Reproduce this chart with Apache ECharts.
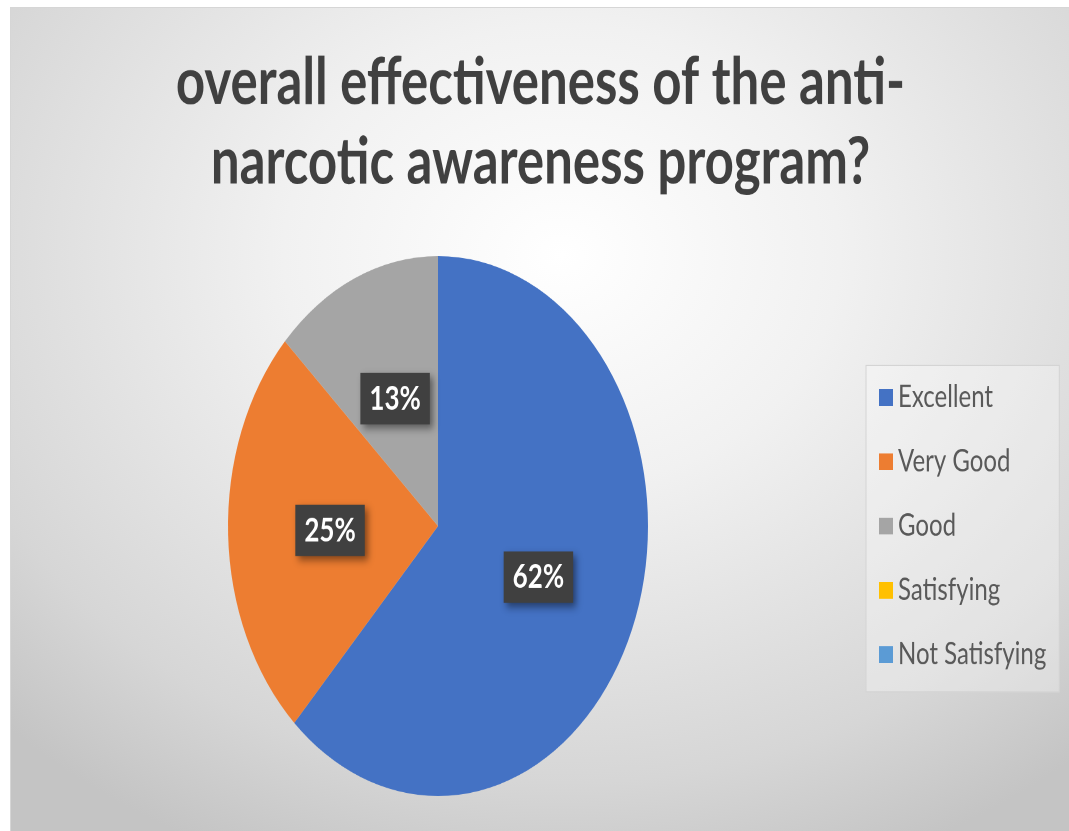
<!DOCTYPE html>
<html>
<head>
<meta charset="utf-8">
<script src="https://cdn.jsdelivr.net/npm/echarts@6/dist/echarts.min.js"></script>
<style>
  html, body { margin: 0; padding: 0; background: #fff; }
  #wrap {
    position: absolute; left: 10px; top: 7px; width: 1059px; height: 824px; overflow: hidden;
    border-top: 1px solid #d6d6d6; border-left: 1px solid #d6d6d6;
    background: radial-gradient(ellipse 75% 80% at 52% 30%, #ffffff 0%, #f1f1f1 35%, #d6d6d6 80%, #c4c4c4 100%);
  }
  /* the source picture is stretched vertically, so draw flat and stretch */
  #chart { width: 1059px; height: 641px; transform: scaleY(1.2855); transform-origin: 0 0; }
</style>
</head>
<body>
<div id="wrap"><div id="chart"></div></div>
<script>
const titleText = 'overall effectiveness of the anti-\nnarcotic awareness program?'
const categories = ['Excellent', 'Very Good', 'Good', 'Satisfying', 'Not Satisfying']
const shares = [62, 25, 13, 0, 0]
const colors = ['#4472C4', '#ED7D31', '#A5A5A5', '#FFC000', '#5B9BD5']

const chart = echarts.init(document.getElementById('chart'), null, { devicePixelRatio: 2 })

const pieData = categories.map((name, i) => ({
  name: name,
  value: shares[i],
  itemStyle: { color: colors[i] },
  label: { show: shares[i] > 0 }
}))

chart.setOption({
  animation: false,
  backgroundColor: 'transparent',
  title: {
    text: titleText,
    left: 'center',
    top: 22,
    padding: [5, 5, 5, 20],
    textStyle: {
      fontFamily: 'Lato',
      fontSize: 51,
      fontWeight: 'bold',
      color: '#404040',
      lineHeight: 62
    }
  },
  legend: {
    orient: 'vertical',
    left: 855,
    top: 278,
    padding: [13, 13, 17, 13],
    itemGap: 26,
    itemWidth: 14,
    itemHeight: 13,
    icon: 'rect',
    backgroundColor: 'rgba(255,255,255,0.3)',
    borderColor: '#d4d4d4',
    borderWidth: 1,
    data: categories,
    textStyle: {
      fontFamily: 'Lato',
      fontSize: 24,
      color: '#595959'
    }
  },
  series: [
    {
      type: 'pie',
      center: [427, 403],
      radius: 210,
      startAngle: 90,
      clockwise: true,
      data: pieData,
      labelLine: { show: false },
      emphasis: { disabled: true },
      label: {
        position: 'inside',
        formatter: '{c}%',
        fontFamily: 'Lato',
        fontSize: 26,
        fontWeight: 'bold',
        color: '#ffffff',
        backgroundColor: '#404040',
        padding: [8, 9, 6, 9],
        shadowColor: 'rgba(0,0,0,0.45)',
        shadowBlur: 6,
        shadowOffsetX: 3,
        shadowOffsetY: 3,
        textShadowColor: 'transparent'
      }
    }
  ]
})
</script>
</body>
</html>
